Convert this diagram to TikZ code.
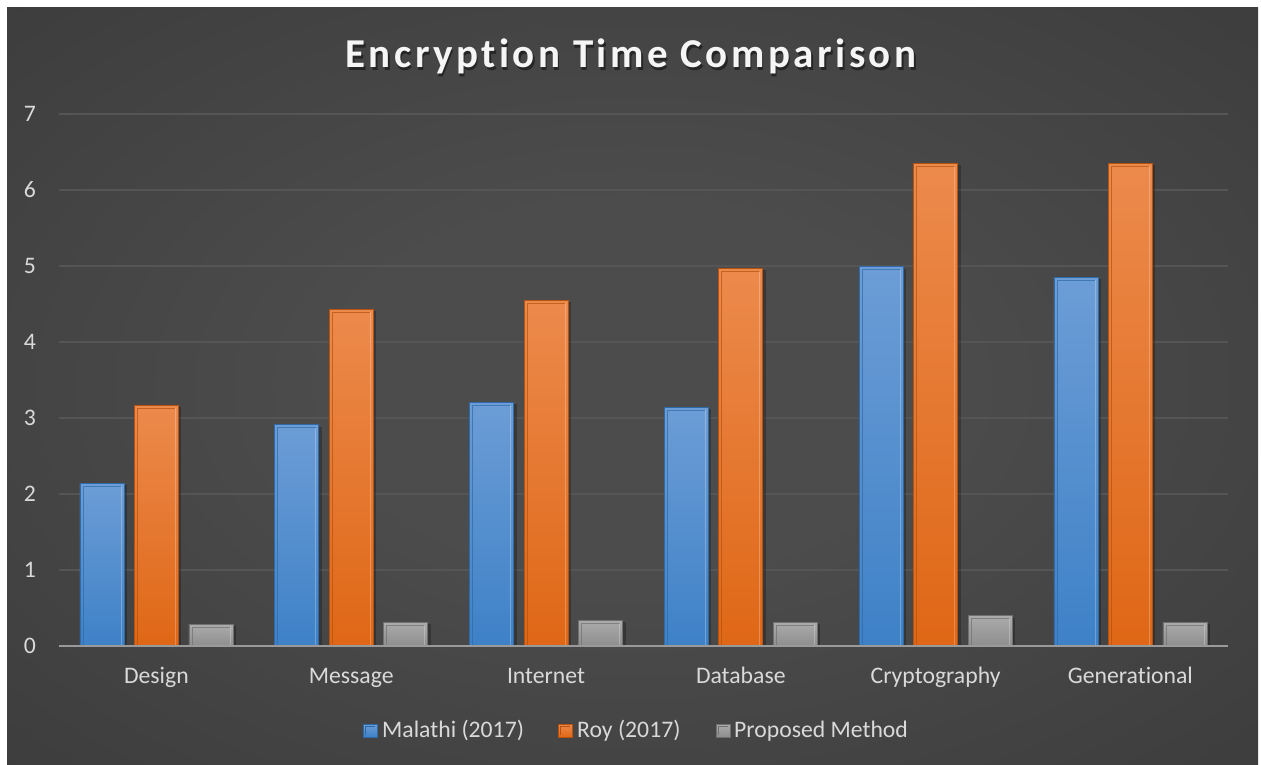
\documentclass[tikz,border=0pt]{standalone}
\usepackage{fontspec}
\setmainfont{Carlito}[Ligatures=NoCommon]
\usetikzlibrary{calc}
\definecolor{bgin}{HTML}{4C4C4C}
\definecolor{bgout}{HTML}{262626}
\definecolor{gridc}{HTML}{555555}
\definecolor{axisc}{HTML}{9A9A9A}
\definecolor{txtc}{HTML}{D9D9D9}
\definecolor{blueT}{HTML}{6C9DD6}
\definecolor{blueB}{HTML}{3E81C7}
\definecolor{blueE}{HTML}{2F6AA8}
\definecolor{orangeT}{HTML}{EC8A4C}
\definecolor{orangeB}{HTML}{DF6716}
\definecolor{orangeE}{HTML}{B5520F}
\definecolor{grayT}{HTML}{ABABAB}
\definecolor{grayB}{HTML}{8E8E8E}
\definecolor{grayE}{HTML}{707070}
\pgfdeclareradialshading{bgshade}{\pgfpoint{0bp}{0bp}}{color(0bp)=(bgin); color(12bp)=(bgin); color(72bp)=(bgout)}
\tikzset{
  lab/.style={text=txtc, font=\fontsize{23.7}{28}\selectfont, inner sep=0pt},
  ylab/.style={lab, anchor=base},
  catlab/.style={lab, anchor=base},
  leglab/.style={lab, anchor=base west},
  grid/.style={draw=gridc, line width=1.6pt},
  axisline/.style={draw=axisc, line width=2pt},
  titlefont/.style={anchor=base, inner sep=0pt,
      font=\fontsize{41}{48}\selectfont\bfseries\addfontfeature{LetterSpace=8.5}},
}
\newcommand\onebar[5]{% x center, value, top, bottom, edge
  \fill[black, opacity=0.25] ({#1-22+3},646) rectangle ({#1+22+3},{646-76*#2+2});
  \fill[top color=#3, bottom color=#4, draw=#5, line width=0.8pt] ({#1-22},646) rectangle ({#1+22},{646-76*#2});
  \draw[#5, line width=0.8pt, opacity=0.7] ({#1-19},646) -- ({#1-19},{646-76*#2+3}) -- ({#1+19},{646-76*#2+3});
  \draw[white, line width=0.8pt, opacity=0.25] ({#1+19},{646-76*#2+3}) -- ({#1+19},646);
}
\newcommand\legsq[4]{% x, top, bottom, edge
  \fill[top color=#2, bottom color=#3, draw=#4, line width=0.6pt] (#1,724) rectangle ({#1+14},737);
  \draw[#4, line width=0.6pt] ({#1+2.5},735) -- ({#1+2.5},726.5) -- ({#1+11.5},726.5);
}
\begin{document}
\begin{tikzpicture}[x=1pt, y=-1pt]
\useasboundingbox (0,0) rectangle (1261,765);
\fill[white] (0,0) rectangle (1261,765);
\fill[shading=bgshade] (7,8) rectangle (1258,765);
% title with soft shadow
\node[titlefont, text=black, opacity=0.45] (titleshadow) at (632.5,70.5) {Encryption Time Comparison};
\node[titlefont, text=white!96!black] (title) at (631,68) {Encryption Time Comparison};
% grid and y labels
\foreach \v in {1,...,7} {
  \draw[grid] (59,{646-76*\v}) -- (1228,{646-76*\v});
}
\foreach \v in {0,...,7} {
  \node[ylab] (y\v) at (30,{646-76*\v+7.5}) {\v};
}
% bars
\foreach \i/\a/\b/\c in {0/2.14/3.17/0.285, 1/2.91/4.43/0.31, 2/3.21/4.55/0.34, 3/3.14/4.97/0.31, 4/4.99/6.35/0.40, 5/4.85/6.35/0.31} {
  \pgfmathsetmacro\cx{156.4+194.8*\i}
  \onebar{\cx-54.5}{\a}{blueT}{blueB}{blueE}
  \onebar{\cx}{\b}{orangeT}{orangeB}{orangeE}
  \onebar{\cx+54.5}{\c}{grayT}{grayB}{grayE}
}
\draw[axisline] (59,646) -- (1228,646);
% category labels
\foreach \i/\t in {0/Design, 1/Message, 2/Internet, 3/Database, 4/Cryptography, 5/Generational} {
  \node[catlab] (c\i) at ({156.4+194.8*\i},683.5) {\t};
}
% legend
\legsq{363}{blueT}{blueB}{blueE}
\node[leglab] (l1) at (382,737) {Malathi (2017)};
\legsq{558}{orangeT}{orangeB}{orangeE}
\node[leglab] (l2) at (577,737) {Roy (2017)};
\legsq{716}{grayT}{grayB}{grayE}
\node[leglab] (l3) at (734,737) {Proposed Method};
\end{tikzpicture}
\end{document}
